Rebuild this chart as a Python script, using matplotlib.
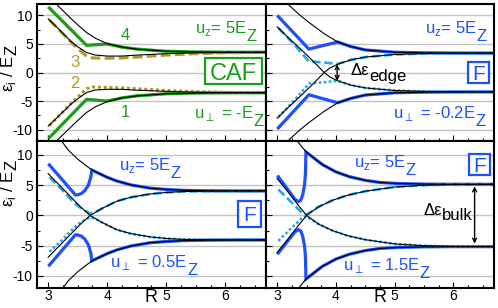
import matplotlib
matplotlib.use('Agg')
import matplotlib.pyplot as plt
import matplotlib.patches as mpatches
from matplotlib.transforms import IdentityTransform
from matplotlib.ticker import MultipleLocator

plt.rcParams['font.family'] = ['Liberation Sans', 'DejaVu Sans']
plt.rcParams['mathtext.fontset'] = 'dejavusans'
plt.rcParams['axes.unicode_minus'] = False

W, H = 498, 308
GREEN = '#1a9e1a'
OLIVE = '#aa9c2a'
BLUE = '#1e50ff'
LBLUE = '#2aa6ee'

# ---- top left: CAF, u_perp = -E_Z ----
caf_x = [3.0, 3.15, 3.38, 3.5, 3.65, 3.8, 4.0, 4.25, 4.5, 5.0, 5.5, 6.0, 6.7]
caf_outer_up = [13.6, 11.85, 9.5, 8.35, 7.0, 6.0, 5.05, 4.45, 4.1, 3.72, 3.6, 3.56, 3.55]
caf_inner_up = [9.4, 7.9, 5.5, 4.5, 3.5, 3.05, 2.88, 2.88, 3.05, 3.3, 3.45, 3.52, 3.55]
caf_inner_dn = [-9.4, -7.9, -5.6, -4.6, -3.5, -3.05, -2.95, -2.95, -3.1, -3.3, -3.45, -3.52, -3.55]
caf_outer_dn = [-13.6, -11.9, -9.6, -8.4, -7.0, -6.0, -5.1, -4.45, -4.1, -3.72, -3.6, -3.56, -3.55]
caf_g_x = [3.02, 3.65, 4.0, 4.25, 4.5, 5.0, 5.5, 6.0, 6.7]
caf_lev4 = [11.3, 4.76, 5.0, 4.45, 4.1, 3.72, 3.6, 3.56, 3.55]
caf_lev1 = [-11.4, -4.7, -5.0, -4.45, -4.1, -3.72, -3.6, -3.56, -3.55]
caf_o_x = [3.02, 3.2, 3.38, 3.5, 3.65, 3.75, 4.0, 4.25, 4.5, 5.0, 5.5, 6.0, 6.7]
caf_lev3 = [9.2, 7.3, 5.4, 4.2, 2.85, 2.55, 2.5, 2.55, 2.7, 3.05, 3.3, 3.45, 3.52]
caf_lev2 = [-9.3, -7.4, -5.5, -4.3, -2.85, -2.55, -2.6, -2.7, -2.85, -3.15, -3.35, -3.47, -3.53]

# ---- top right: F, u_perp = -0.2 E_Z ----
f1_out_x = [3.0, 3.18, 3.38, 3.55, 3.8, 4.03, 4.25, 4.5, 5.0, 5.5, 6.0, 6.7]
f1_outer_up = [14.2, 12.0, 10.1, 8.7, 6.8, 5.35, 4.55, 3.95, 3.55, 3.45, 3.41, 3.4]
f1_outer_dn = [-14.2, -12.0, -10.1, -8.7, -6.8, -5.3, -4.55, -3.95, -3.55, -3.45, -3.41, -3.4]
f1_cr_x = [3.0, 3.2, 3.4, 3.6, 3.8, 3.9, 4.03, 4.25, 4.5, 5.0, 5.5, 6.0, 6.7]
f1_cross_dn = [8.0, 6.0, 4.1, 2.1, 0.0, -0.8, -1.45, -2.2, -2.7, -3.15, -3.32, -3.38, -3.4]
f1_cross_up = [-8.0, -6.0, -4.1, -2.1, 0.0, 0.8, 1.45, 2.2, 2.7, 3.15, 3.32, 3.38, 3.4]
f1_b_x = [3.02, 3.54, 4.03, 4.25, 4.5, 5.0, 5.5, 6.0, 6.7]
f1_blue_up = [9.8, 4.1, 5.35, 4.55, 3.95, 3.55, 3.45, 3.41, 3.4]
f1_blue_dn = [-9.7, -3.9, -5.3, -4.55, -3.95, -3.55, -3.45, -3.41, -3.4]
f1_lb_x = [3.02, 3.3, 3.54, 3.8, 4.03, 4.25, 4.5, 5.0, 5.5, 6.0, 6.7]
f1_lb_up = [7.8, 4.8, 1.95, 1.75, 1.5, 2.2, 2.7, 3.15, 3.32, 3.38, 3.4]
f1_lb_dn = [-7.8, -4.8, -1.95, -1.7, -1.45, -2.2, -2.7, -3.15, -3.32, -3.38, -3.4]

# ---- bottom left: F, u_perp = 0.5 E_Z ----
f2_out_x = [3.15, 3.34, 3.5, 3.74, 4.0, 4.16, 4.4, 4.73, 5.0, 5.29, 5.7, 6.2, 6.7]
f2_outer_up = [13.3, 10.8, 9.3, 7.5, 6.3, 5.7, 5.05, 4.5, 4.3, 4.15, 4.08, 4.05, 4.05]
f2_outer_dn = [-13.3, -10.8, -9.3, -7.5, -6.3, -5.7, -5.05, -4.5, -4.3, -4.15, -4.08, -4.05, -4.05]
f2_cr_x = [3.0, 3.2, 3.32, 3.54, 3.71, 3.9, 4.16, 4.4, 4.73, 5.0, 5.29, 5.7, 6.2, 6.7]
f2_cross_dn = [6.9, 4.9, 3.7, 1.5, 0.0, -1.1, -2.35, -3.0, -3.55, -3.8, -3.95, -4.02, -4.05, -4.05]
f2_cross_up = [-6.9, -4.9, -3.7, -1.5, 0.0, 1.1, 2.35, 3.0, 3.55, 3.8, 3.95, 4.02, 4.05, 4.05]
f2_b_x = [3.02, 3.46, 3.5, 3.56, 3.62, 3.68, 3.72, 3.74, 4.0, 4.16, 4.4, 4.73, 5.0, 5.29, 5.7, 6.2, 6.7]
f2_blue_up = [8.35, 3.4, 3.42, 3.6, 4.1, 5.0, 6.3, 7.5, 6.3, 5.7, 5.05, 4.5, 4.3, 4.15, 4.08, 4.05, 4.05]
f2_blue_dn = [-8.2, -3.2, -3.22, -3.4, -3.9, -4.85, -6.15, -7.5, -6.3, -5.7, -5.05, -4.5, -4.3, -4.15, -4.08, -4.05, -4.05]
f2_lb_x = [3.02, 3.2, 3.4, 3.5, 3.6, 3.71, 3.8, 3.9, 4.16, 4.4, 4.73, 5.0, 5.29, 5.7, 6.2, 6.7]
f2_lb_up = [6.3, 4.6, 2.5, 1.6, 0.9, 0.35, 0.55, 1.1, 2.35, 3.0, 3.55, 3.8, 3.95, 4.02, 4.05, 4.05]
f2_lb_dn = [-6.0, -4.4, -2.4, -1.5, -0.85, -0.3, -0.55, -1.1, -2.35, -3.0, -3.55, -3.8, -3.95, -4.02, -4.05, -4.05]

# ---- bottom right: F, u_perp = 1.5 E_Z ----
f3_out_x = [3.3, 3.35, 3.49, 3.77, 4.0, 4.23, 4.5, 4.75, 5.05, 5.5, 6.0, 6.7]
f3_outer_up = [13.0, 12.2, 10.5, 8.4, 7.2, 6.4, 5.8, 5.45, 5.28, 5.18, 5.15, 5.15]
f3_outer_dn = [-13.0, -12.2, -10.5, -8.4, -7.2, -6.4, -5.8, -5.45, -5.28, -5.18, -5.15, -5.15]
f3_cr_x = [3.0, 3.2, 3.35, 3.5, 3.7, 3.94, 4.2, 4.5, 5.0, 5.5, 6.0, 6.7]
f3_cross_dn = [6.1, 3.7, 1.8, 0.0, -1.4, -2.5, -3.35, -4.0, -4.7, -5.0, -5.12, -5.15]
f3_cross_up = [-6.1, -3.7, -1.8, 0.0, 1.4, 2.5, 3.35, 4.0, 4.7, 5.0, 5.12, 5.15]
f3_b_x = [3.02, 3.3, 3.36, 3.4, 3.435, 3.465, 3.48, 3.49, 3.77, 4.0, 4.23, 4.5, 4.75, 5.05, 5.5, 6.0, 6.7]
f3_blue_up = [6.4, 2.7, 2.3, 2.5, 3.4, 5.0, 6.7, 10.5, 8.4, 7.2, 6.4, 5.8, 5.45, 5.28, 5.18, 5.15, 5.15]
f3_blue_dn = [-6.2, -2.75, -2.35, -2.55, -3.45, -5.0, -6.6, -10.5, -8.4, -7.2, -6.4, -5.8, -5.45, -5.28, -5.18, -5.15, -5.15]
f3_lb_x = [3.02, 3.22, 3.42, 3.5, 3.7, 3.94, 4.2, 4.5, 5.0, 5.5, 6.0, 6.7]
f3_lb_up = [4.3, 2.4, 0.45, 0.15, 1.4, 2.5, 3.35, 4.0, 4.7, 5.0, 5.12, 5.15]
f3_lb_dn = [-4.2, -2.3, -0.45, -0.15, -1.4, -2.5, -3.35, -4.0, -4.7, -5.0, -5.12, -5.15]

fig = plt.figure(figsize=(W / 100, H / 100), dpi=100)
ax_tl = fig.add_axes([37 / W, 1 - 141 / H, 229 / W, 137 / H])
ax_tr = fig.add_axes([266 / W, 1 - 141 / H, 228 / W, 137 / H])
ax_bl = fig.add_axes([37 / W, 1 - 287.5 / H, 229 / W, 146.5 / H])
ax_br = fig.add_axes([266 / W, 1 - 287.5 / H, 228 / W, 146.5 / H])


def setup(ax, ylim, xlabels, ylabels):
    ax.set_xlim(2.81, 6.69)
    ax.set_ylim(*ylim)
    ax.xaxis.set_major_locator(MultipleLocator(1))
    ax.xaxis.set_minor_locator(MultipleLocator(0.25))
    ax.yaxis.set_major_locator(MultipleLocator(5))
    ax.yaxis.set_minor_locator(MultipleLocator(2.5))
    ax.tick_params(which='both', direction='in', top=False, right=False,
                   width=0.8, labelsize=10)
    ax.tick_params(which='major', length=4.5)
    ax.tick_params(which='minor', length=2.5)
    ax.tick_params(axis='x', pad=1, labelbottom=xlabels)
    ax.tick_params(axis='y', pad=3, labelleft=ylabels)
    ax.grid(axis='y', which='major', color='#c4c4c4', lw=1)
    ax.set_axisbelow(True)
    for s in ax.spines.values():
        s.set_linewidth(1.5)


setup(ax_tl, (-12, 12), False, True)
setup(ax_tr, (-12, 12), False, False)
setup(ax_bl, (-11.9, 12.3), True, True)
setup(ax_br, (-11.9, 12.3), True, False)

thin = dict(color='black', lw=0.8, zorder=4)
thick = dict(lw=2.3, zorder=2, solid_joinstyle='miter')
dash = (0, (3.2, 1.4))
dots = (0, (1, 0.9))

# CAF panel
ax_tl.plot(caf_g_x, caf_lev4, color=GREEN, **thick)
ax_tl.plot(caf_g_x, caf_lev1, color=GREEN, **thick)
ax_tl.plot(caf_o_x, caf_lev3, color=OLIVE, lw=2.2, ls=dash, zorder=3)
ax_tl.plot(caf_o_x, caf_lev2, color=OLIVE, lw=2.2, ls=dots, zorder=3)
for yy in (caf_outer_up, caf_inner_up, caf_inner_dn, caf_outer_dn):
    ax_tl.plot(caf_x, yy, **thin)

# F panels
panels = [
    (ax_tr, f1_out_x, f1_outer_up, f1_outer_dn, f1_cr_x, f1_cross_dn, f1_cross_up,
     f1_b_x, f1_blue_up, f1_blue_dn, f1_lb_x, f1_lb_up, f1_lb_dn),
    (ax_bl, f2_out_x, f2_outer_up, f2_outer_dn, f2_cr_x, f2_cross_dn, f2_cross_up,
     f2_b_x, f2_blue_up, f2_blue_dn, f2_lb_x, f2_lb_up, f2_lb_dn),
    (ax_br, f3_out_x, f3_outer_up, f3_outer_dn, f3_cr_x, f3_cross_dn, f3_cross_up,
     f3_b_x, f3_blue_up, f3_blue_dn, f3_lb_x, f3_lb_up, f3_lb_dn),
]
for (ax, ox, oup, odn, cx, cdn, cup, bx, bup, bdn, lx, lup, ldn) in panels:
    ax.plot(bx, bup, color=BLUE, **thick)
    ax.plot(bx, bdn, color=BLUE, **thick)
    ax.plot(lx, lup, color=LBLUE, lw=1.9, ls=dash, zorder=3)
    ax.plot(lx, ldn, color=LBLUE, lw=1.9, ls=dots, zorder=3)
    ax.plot(ox, oup, **thin)
    ax.plot(ox, odn, **thin)
    ax.plot(cx, cdn, **thin)
    ax.plot(cx, cup, **thin)

renderer = fig.canvas.get_renderer()


def sub_text(ax, x, y, head, tail, color, size=12, drop=5.5):
    t = ax.text(x, y, head, color=color, fontsize=size, ha='left', va='baseline')
    w = t.get_window_extent(renderer).width * 72 / fig.dpi
    ax.annotate(tail, (x, y), xytext=(w, -drop), textcoords='offset points',
                color=color, fontsize=size, ha='left', va='baseline')


def boxed(ax, x, y, text, color, size, wpx, hpx):
    # frame of fixed pixel size centred on (x, y), letters centred inside
    cx, cy = ax.transData.transform((x, y))
    ax.add_patch(mpatches.Rectangle((cx - wpx / 2, cy - hpx / 2), wpx, hpx,
                                    transform=IdentityTransform(), fc='white',
                                    ec=color, lw=1.6, zorder=6))
    ax.annotate(text, (x, y), xytext=(0, -0.36 * size), textcoords='offset points',
                color=color, fontsize=size, ha='center', va='baseline', zorder=7)


sub_text(ax_tl, 5.49, 6.9, 'u$_\\mathregular{z}$= 5E', 'Z', GREEN)
sub_text(ax_tl, 5.47, -8.0, 'u$_\\perp$ = -E', 'Z', GREEN)
sub_text(ax_tr, 5.51, 6.9, 'u$_\\mathregular{z}$= 5E', 'Z', BLUE)
sub_text(ax_tr, 4.97, -8.0, 'u$_\\perp$ = -0.2E', 'Z', BLUE)
sub_text(ax_bl, 4.2, 7.5, 'u$_\\mathregular{z}$= 5E', 'Z', BLUE)
sub_text(ax_bl, 4.05, -8.5, 'u$_\\perp$ = 0.5E', 'Z', BLUE)
sub_text(ax_br, 4.3, 8.0, 'u$_\\mathregular{z}$= 5E', 'Z', BLUE)
sub_text(ax_br, 4.12, -9.0, 'u$_\\perp$ = 1.5E', 'Z', BLUE)
sub_text(ax_tr, 4.25, -0.44, 'Δε', 'edge', 'black', drop=4)
sub_text(ax_br, 5.49, 0.1, 'Δε', 'bulk', 'black', drop=4)

for lab, xx, yy, col in [('4', 4.3, 5.7, GREEN), ('3', 3.45, 0.96, OLIVE),
                         ('2', 3.45, -2.7, OLIVE), ('1', 4.3, -7.8, GREEN)]:
    ax_tl.text(xx, yy, lab, color=col, fontsize=12, ha='center', va='baseline')

boxed(ax_tl, 6.135, 0.18, 'CAF', GREEN, 17, 57, 26)
boxed(ax_tr, 6.43, 0.0, 'F', BLUE, 15, 21, 21)
boxed(ax_bl, 6.41, 0.25, 'F', BLUE, 15, 23, 26)
boxed(ax_br, 6.44, 8.35, 'F', BLUE, 15, 21, 21)

arrow = dict(arrowstyle='<->', color='black', lw=1, shrinkA=0, shrinkB=0,
             mutation_scale=7)
ax_tr.annotate('', xy=(4.02, 1.45), xytext=(4.02, -1.45), arrowprops=arrow)
ax_br.annotate('', xy=(6.36, 4.8), xytext=(6.36, -4.65), arrowprops=arrow)

for ax in (ax_bl, ax_br):
    ax.text(0.5, -0.1, 'R', transform=ax.transAxes, fontsize=13, ha='center', va='baseline')


def ylab(px, py_start, drop=3):
    t = fig.text(px / W, 1 - py_start / H, 'ε$_\\mathregular{i}$ / E', rotation=90,
                 rotation_mode='anchor', ha='left', va='baseline', fontsize=12)
    L = t.get_window_extent(renderer).height
    fig.text((px + drop) / W, 1 - (py_start - L) / H, 'Z', rotation=90,
             rotation_mode='anchor', ha='left', va='baseline', fontsize=12)


ylab(13.5, 92)
ylab(13.5, 207)

fig.savefig('out.png', dpi=100)
